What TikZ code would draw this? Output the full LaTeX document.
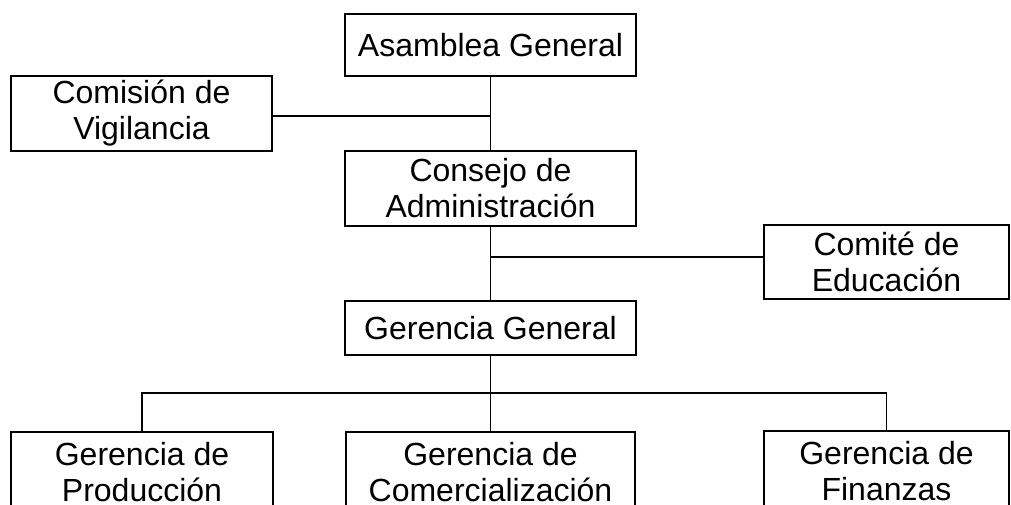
\documentclass[tikz,border=0pt]{standalone}
\usepackage{fontspec}
\setmainfont{Liberation Sans}
\usetikzlibrary{positioning}
\tikzset{
    unit/.style={draw, line width=0.9pt, align=center, inner sep=0pt,
        font=\fontsize{16}{18}\selectfont},
    link/.style={line width=0.9pt}
}

\begin{document}
\begin{tikzpicture}[x=0.5pt,y=-0.5pt]
\tikzstyle{wide}=[minimum width=145.5pt]
\tikzstyle{side}=[minimum width=122.5pt]
\clip (0,0) rectangle (1011,504);

\node[unit,wide,minimum height=31pt] (asamblea) at (490.5,45) {Asamblea General};
\node[unit,minimum width=130.5pt,minimum height=37.5pt] (comision) at (141.5,113.5) {Comisión de\\Vigilancia};
\node[unit,wide,minimum height=37.5pt] (consejo) at (490.5,188.5) {Consejo de\\Administración};
\node[unit,side,minimum height=37pt] (comite) at (886.5,262) {Comité de\\Educación};
\node[unit,wide,minimum height=27pt] (general) at (490.5,328) {Gerencia General};

% gerencias de linea
\node[unit,minimum width=131pt,minimum height=40pt] (produccion) at (142,472) {Gerencia de\\Producción};
\node[unit,minimum width=144.5pt,minimum height=40pt] (comercial) at (490.5,472) {Gerencia de\\Comercialización};
\node[unit,side,minimum height=40pt] (finanzas) at (886.5,471) {Gerencia de\\Finanzas};

\draw[link] (asamblea) -- (consejo);
\draw[link] ([yshift=-1.25pt]comision.east) -- ([yshift=-1.25pt]comision.east -| asamblea.south);
\draw[link] (consejo) -- (general);
\draw[link] ([yshift=2.5pt]comite.west) -- ([yshift=2.5pt]comite.west -| consejo.south);

\coordinate (bus) at (490.5,393);
\draw[link] (general) -- (bus);
\draw[link] (produccion.north) |- (bus) -| (finanzas.north);
\draw[link] (bus) -- (comercial.north);
\end{tikzpicture}
\end{document}
